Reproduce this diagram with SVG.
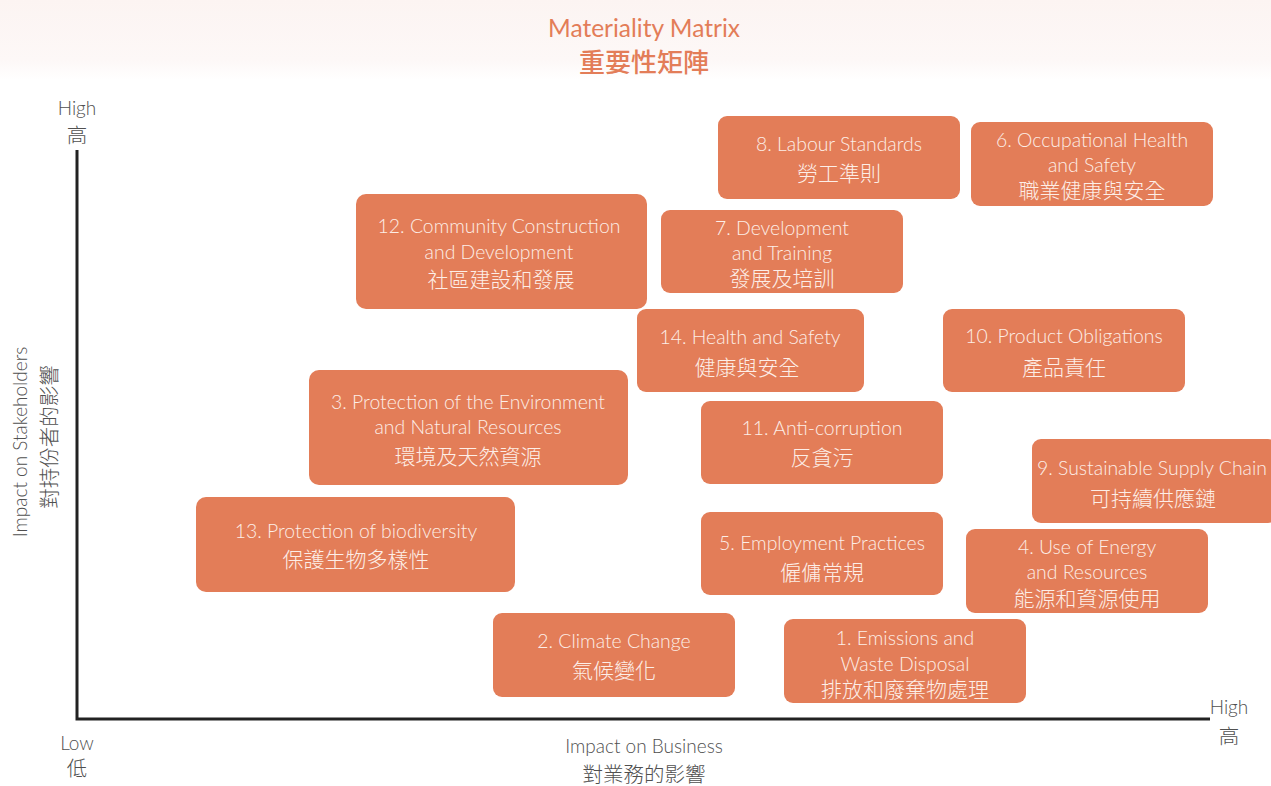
<svg xmlns="http://www.w3.org/2000/svg" width="1271" height="786" viewBox="0 0 1271 786">
<defs>
<linearGradient id="topbg" x1="0" y1="0" x2="0" y2="1">
<stop offset="0" stop-color="#fcf4f2"/>
<stop offset="0.75" stop-color="#fdf8f7"/>
<stop offset="1" stop-color="#ffffff"/>
</linearGradient>
</defs>
<style>
.box{fill:#e37d58;}
.t{font-family:"Lato","Noto Sans CJK TC",sans-serif;font-weight:300;font-size:19.4px;fill:#fdeee7;text-anchor:middle;dominant-baseline:central;}
.c{font-family:"Noto Sans CJK TC",sans-serif;font-weight:300;font-size:21px;fill:#fdeee7;text-anchor:middle;dominant-baseline:central;}
.ax{font-family:"Lato","Noto Sans CJK TC",sans-serif;font-weight:300;font-size:19px;fill:#505050;text-anchor:middle;dominant-baseline:central;}
.axc{font-family:"Noto Sans CJK TC",sans-serif;font-weight:300;font-size:20.5px;fill:#505050;text-anchor:middle;dominant-baseline:central;}
.title{font-family:"Lato","Noto Sans CJK TC",sans-serif;font-size:24.5px;fill:#e37d58;text-anchor:middle;dominant-baseline:central;}
.titlec{font-family:"Noto Sans CJK TC",sans-serif;font-weight:500;font-size:26px;fill:#e37d58;text-anchor:middle;dominant-baseline:central;}
.axis{stroke:#222;stroke-width:3;fill:none;}
</style>
<rect x="0" y="0" width="1271" height="786" fill="#ffffff"/>
<rect x="0" y="0" width="1271" height="80" fill="url(#topbg)"/>
<g id="title">
<text class="title" x="644" y="27">Materiality Matrix</text>
<text class="titlec" x="644" y="60">重要性矩陣</text>
</g>
<g id="axes">
<path class="axis" d="M77 150 V719 H1210"/>
<text class="ax" x="77" y="107">High</text>
<text class="axc" x="77" y="134">高</text>
<text class="ax" x="77" y="742">Low</text>
<text class="axc" x="77" y="767">低</text>
<text class="ax" x="1229" y="706">High</text>
<text class="axc" x="1229" y="735">高</text>
<text class="ax" x="644" y="745">Impact on Business</text>
<text class="axc" x="644" y="773">對業務的影響</text>
<text class="ax" transform="translate(19 442) rotate(-90)" x="0" y="0">Impact on Stakeholders</text>
<text class="axc" transform="translate(48 437) rotate(-90)" x="0" y="0">對持份者的影響</text>
</g>
<g id="connectors"></g>
<g id="n8">
<rect class="box" x="718" y="116" width="242" height="83" rx="9"/>
<text class="t" x="839" y="143">8. Labour Standards</text>
<text class="c" x="839" y="172">勞工準則</text>
</g>
<g id="n6">
<rect class="box" x="971" y="122" width="242" height="84" rx="9"/>
<text class="t" x="1092" y="139">6. Occupational Health</text>
<text class="t" x="1092" y="164">and Safety</text>
<text class="c" x="1092" y="189">職業健康與安全</text>
</g>
<g id="n12">
<rect class="box" x="356" y="194" width="291" height="115" rx="10"/>
<text class="t" x="499" y="225">12. Community Construction</text>
<text class="t" x="499" y="251">and Development</text>
<text class="c" x="501" y="278">社區建設和發展</text>
</g>
<g id="n7">
<rect class="box" x="661" y="210" width="242" height="83" rx="9"/>
<text class="t" x="782" y="227">7. Development</text>
<text class="t" x="782" y="252">and Training</text>
<text class="c" x="782" y="277">發展及培訓</text>
</g>
<g id="n14">
<rect class="box" x="637" y="309" width="227" height="83" rx="9"/>
<text class="t" x="750" y="336">14. Health and Safety</text>
<text class="c" x="747" y="366">健康與安全</text>
</g>
<g id="n10">
<rect class="box" x="943" y="309" width="242" height="83" rx="9"/>
<text class="t" x="1064" y="335">10. Product Obligations</text>
<text class="c" x="1064" y="366">產品責任</text>
</g>
<g id="n3">
<rect class="box" x="309" y="370" width="319" height="115" rx="10"/>
<text class="t" x="468" y="401">3. Protection of the Environment</text>
<text class="t" x="468" y="426">and Natural Resources</text>
<text class="c" x="468" y="455">環境及天然資源</text>
</g>
<g id="n11">
<rect class="box" x="701" y="401" width="242" height="83" rx="9"/>
<text class="t" x="822" y="427">11. Anti-corruption</text>
<text class="c" x="822" y="456">反貪污</text>
</g>
<g id="n9">
<rect class="box" x="1032" y="439" width="245" height="84" rx="9"/>
<text class="t" x="1152" y="467">9. Sustainable Supply Chain</text>
<text class="c" x="1153" y="497">可持續供應鏈</text>
</g>
<g id="n13">
<rect class="box" x="196" y="497" width="319" height="95" rx="10"/>
<text class="t" x="356" y="530">13. Protection of biodiversity</text>
<text class="c" x="356" y="558">保護生物多樣性</text>
</g>
<g id="n5">
<rect class="box" x="701" y="512" width="242" height="83" rx="9"/>
<text class="t" x="822" y="542">5. Employment Practices</text>
<text class="c" x="822" y="571">僱傭常規</text>
</g>
<g id="n4">
<rect class="box" x="966" y="529" width="242" height="84" rx="9"/>
<text class="t" x="1087" y="546">4. Use of Energy</text>
<text class="t" x="1087" y="571">and Resources</text>
<text class="c" x="1087" y="597">能源和資源使用</text>
</g>
<g id="n2">
<rect class="box" x="493" y="613" width="242" height="84" rx="9"/>
<text class="t" x="614" y="640">2. Climate Change</text>
<text class="c" x="614" y="669">氣候變化</text>
</g>
<g id="n1">
<rect class="box" x="784" y="619" width="242" height="84" rx="9"/>
<text class="t" x="905" y="637">1. Emissions and</text>
<text class="t" x="905" y="663">Waste Disposal</text>
<text class="c" x="905" y="688">排放和廢棄物處理</text>
</g>
</svg>
